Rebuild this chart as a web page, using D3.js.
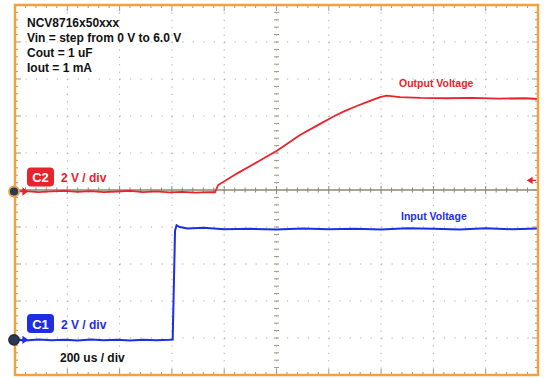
<!DOCTYPE html>
<html>
<head>
<meta charset="utf-8">
<script src="https://cdn.jsdelivr.net/npm/d3@7"></script>
<style>
  body { margin: 0; background: #fff; }
  text { font-family: "Liberation Sans", Arial, sans-serif; font-weight: bold; }
</style>
</head>
<body>
<div id="scope"></div>
<script>
// Settings text
const infoLines = ["NCV8716x50xxx", "Vin = step from 0 V to 6.0 V", "Cout = 1 uF", "Iout = 1 mA"];
const timeLabel = "200 us / div";

// C2 - output voltage (time in us, volts)
const outTime = [0, 40, 90, 140, 190, 240, 290, 340, 390, 440, 490, 540, 590, 640, 690, 740, 765,
  777, 850, 930, 1003, 1090, 1160, 1216, 1260, 1307, 1350, 1396, 1421, 1472, 1550, 1650, 1750, 1850, 1950, 2000];
const outVolt = [0, 0.02, -0.03, 0.01, 0.03, -0.02, 0.02, -0.04, 0.0, 0.03, -0.03, 0.01, -0.05, -0.02, -0.06, -0.03, -0.04,
  0.35, 0.98, 1.62, 2.22, 3.05, 3.6, 4.04, 4.34, 4.62, 4.86, 5.1, 5.18, 5.1, 5.06, 5.04, 5.06, 5.02, 5.04, 5.0];

// C1 - input voltage
const inTime = [0, 40, 90, 140, 190, 240, 290, 340, 390, 440, 490, 540, 590, 603, 612, 618, 630, 660, 720, 800,
  900, 1000, 1100, 1200, 1300, 1400, 1500, 1600, 1700, 1800, 1900, 2000];
const inVolt = [0, -0.03, 0.02, -0.02, 0.01, -0.04, 0.02, -0.02, 0.0, -0.03, 0.01, -0.02, 0.0, 0.02, 5.9, 6.2, 6.1, 6.02, 6.06, 5.98,
  6.0, 5.96, 6.02, 5.98, 6.0, 5.97, 6.03, 6.0, 5.96, 6.03, 5.98, 6.02];

const voltsPerDiv = 2;
const c2Offset = -0.04; // divisions
const c1Offset = -4.05;

const width = 544, height = 378;
const frame = { left: 15, right: 538, top: 5, bottom: 375 };
const red = "#e8232b", blue = "#1c2ee6";

const svg = d3.select("#scope").append("svg")
  .attr("width", width).attr("height", height);

const x = d3.scaleLinear().domain([0, 2000]).range([frame.left, frame.right]);
const y = d3.scaleLinear().domain([-5, 5]).range([frame.bottom, frame.top]); // divisions

const xDiv = d3.range(0, 2001, 200);
const xMinor = d3.range(0, 2001, 40);
const yDiv = d3.range(-5, 5.01, 1);
const yMinor = d3.range(-5, 5.01, 0.2);

// Dotted grid
const grid = svg.append("g");
grid.selectAll(".gv").data(xDiv.slice(1, -1).filter(d => d !== 1000)).enter().append("line")
  .attr("x1", d => x(d)).attr("x2", d => x(d)).attr("y1", frame.top).attr("y2", frame.bottom)
  .attr("stroke", "#aaa").attr("stroke-dasharray", "1.2 6.2");
grid.selectAll(".gh").data(yDiv.slice(1, -1).filter(d => d !== 0)).enter().append("line")
  .attr("x1", frame.left).attr("x2", frame.right).attr("y1", d => y(d)).attr("y2", d => y(d))
  .attr("stroke", "#aaa").attr("stroke-dasharray", "1.2 9.26");

// Center axes
grid.append("line").attr("x1", frame.left).attr("x2", frame.right).attr("y1", y(0)).attr("y2", y(0))
  .attr("stroke", "#8d8774").attr("stroke-width", 1.5);
grid.append("line").attr("x1", x(1000)).attr("x2", x(1000)).attr("y1", frame.top).attr("y2", frame.bottom)
  .attr("stroke", "#b8b4a8").attr("stroke-dasharray", "1.2 6.2");
grid.selectAll(".cxt").data(xMinor).enter().append("line")
  .attr("x1", d => x(d)).attr("x2", d => x(d))
  .attr("y1", d => y(0) - (d % 200 === 0 ? 4 : 2.5)).attr("y2", d => y(0) + (d % 200 === 0 ? 4 : 2.5))
  .attr("stroke", "#8d8774");
grid.selectAll(".cyt").data(yMinor).enter().append("line")
  .attr("y1", d => y(d)).attr("y2", d => y(d))
  .attr("x1", x(1000) - 2.5).attr("x2", x(1000) + 2.5)
  .attr("stroke", "#9d9786");

// Edge ticks
const edge = svg.append("g").attr("stroke", "#999");
edge.selectAll(".tb").data(xMinor).enter().append("line")
  .attr("x1", d => x(d)).attr("x2", d => x(d))
  .attr("y1", frame.bottom).attr("y2", d => frame.bottom - (d % 200 === 0 ? 6 : 3));
edge.selectAll(".tt").data(xMinor).enter().append("line")
  .attr("x1", d => x(d)).attr("x2", d => x(d))
  .attr("y1", frame.top).attr("y2", d => frame.top + (d % 200 === 0 ? 6 : 3));
edge.selectAll(".tl").data(yMinor).enter().append("line")
  .attr("y1", d => y(d)).attr("y2", d => y(d))
  .attr("x1", frame.left).attr("x2", (d, i) => frame.left + (i % 5 === 0 ? 6 : 3));
edge.selectAll(".tr").data(yMinor).enter().append("line")
  .attr("y1", d => y(d)).attr("y2", d => y(d))
  .attr("x1", frame.right).attr("x2", (d, i) => frame.right - (i % 5 === 0 ? 6 : 3));

// Traces
const line = offset => d3.line()
  .x(d => x(d[0]))
  .y(d => y(d[1] / voltsPerDiv + offset));

svg.append("path")
  .datum(d3.zip(outTime, outVolt))
  .attr("d", line(c2Offset))
  .attr("fill", "none").attr("stroke", red).attr("stroke-width", 1.8);

svg.append("path")
  .datum(d3.zip(inTime, inVolt))
  .attr("d", line(c1Offset))
  .attr("fill", "none").attr("stroke", blue).attr("stroke-width", 2);

// Trigger level marker
const trigY = y(c2Offset + 0.3);
svg.append("path")
  .attr("d", `M${frame.right - 10},${trigY} l4,-2.5 v5 z M${frame.right - 7},${trigY} h5`)
  .attr("fill", red).attr("stroke", red).attr("stroke-width", 1.2);

// Border
svg.append("rect")
  .attr("x", frame.left).attr("y", frame.top)
  .attr("width", frame.right - frame.left).attr("height", frame.bottom - frame.top)
  .attr("fill", "none").attr("stroke", "#f2a23a").attr("stroke-width", 2.5);

// Channel ground markers
function groundMarker(offset, color, ring) {
  const gy = y(offset);
  svg.append("path")
    .attr("d", `M${frame.left + 4},${gy} h8 M${frame.left + 12},${gy} l-4,-3 v6 z`)
    .attr("stroke", color).attr("fill", color).attr("stroke-width", 1.2);
  svg.append("circle").attr("cx", frame.left - 1).attr("cy", gy).attr("r", 5)
    .attr("fill", "#2a3a55").attr("stroke", ring).attr("stroke-width", 1.8);
}
groundMarker(c2Offset, red, "#e9a04a");
groundMarker(c1Offset, blue, "#2b2b40");

// Channel labels
function channelLabel(name, color, boxY) {
  svg.append("rect").attr("x", 27).attr("y", boxY).attr("width", 27).attr("height", 19)
    .attr("rx", 4).attr("fill", color);
  svg.append("text").attr("x", 40.5).attr("y", boxY + 14.5).attr("text-anchor", "middle")
    .attr("fill", "#fff").attr("font-size", 13).text(name);
  svg.append("text").attr("x", 61).attr("y", boxY + 14.5)
    .attr("fill", color).attr("font-size", 12).text("2 V / div");
}
channelLabel("C2", red, 167.5);
channelLabel("C1", blue, 314);

svg.append("text").attr("x", 60).attr("y", 362).attr("fill", "#111")
  .attr("font-size", 12).text(timeLabel);

svg.append("g").selectAll("text").data(infoLines).enter().append("text")
  .attr("x", 27).attr("y", (d, i) => 27 + i * 15)
  .attr("fill", "#111").attr("font-size", 12).text(d => d);

// Trace names
svg.append("text").attr("x", 399).attr("y", 87).attr("fill", red)
  .attr("font-size", 10.5).text("Output Voltage");
svg.append("text").attr("x", 401).attr("y", 220).attr("fill", blue)
  .attr("font-size", 10.5).text("Input Voltage");
</script>
</body>
</html>
